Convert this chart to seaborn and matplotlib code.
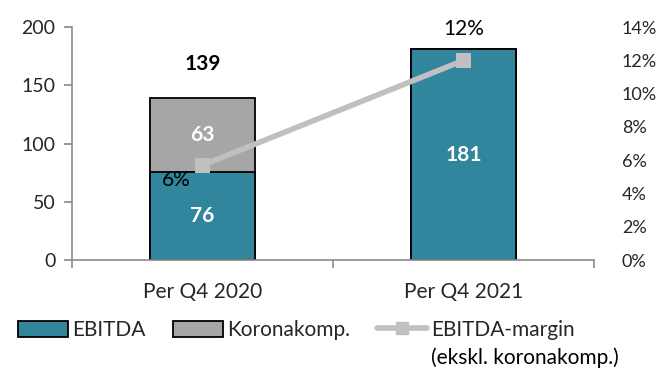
import matplotlib
matplotlib.use("Agg")
import matplotlib.pyplot as plt
import seaborn as sns
import pandas as pd
from matplotlib.patches import Patch
from matplotlib.lines import Line2D

categories = ["Per Q4 2020", "Per Q4 2021"]
ebitda = [76, 181]
korona = [63, 0]
margin = [5.7, 12.0]
margin_labels = ["6%", "12%"]
total_labels = ["139", ""]

sns.set_theme(style="white")
plt.rcParams["font.family"] = ["Lato", "DejaVu Sans"]

teal = "#31859C"
gray = "#A6A6A6"
linec = "#C0C0C0"
axc = "#8C8C8C"

fig = plt.figure(figsize=(6.6, 3.72), dpi=100)
ax = fig.add_axes([0.109, 0.301, 0.791, 0.626])

df = pd.DataFrame({"cat": categories, "ebitda": ebitda,
                   "total": [e + k for e, k in zip(ebitda, korona)]})
sns.barplot(data=df, x="cat", y="total", color=gray, width=0.4, ax=ax,
            edgecolor="black", linewidth=1.3, saturation=1)
sns.barplot(data=df, x="cat", y="ebitda", color=teal, width=0.4, ax=ax,
            edgecolor="black", linewidth=1.3, saturation=1)

ax.set_ylim(0, 200)
ax.set_xlim(-0.5, 1.5)
ax.set_yticks([0, 50, 100, 150, 200])
ax.set_xlabel("")
ax.set_ylabel("")
for s in ["top", "right"]:
    ax.spines[s].set_visible(False)
for s in ["left", "bottom"]:
    ax.spines[s].set_color(axc)
    ax.spines[s].set_linewidth(1.2)
ax.tick_params(axis="y", left=True, length=6, color=axc, labelsize=14, pad=6)
ax.tick_params(axis="x", bottom=False, labelsize=15, pad=10)
ax.set_xticks([-0.5, 0.5, 1.5], minor=True)
ax.tick_params(axis="x", which="minor", bottom=True, length=6, color=axc, width=1.2)

# value labels
for i in range(len(categories)):
    ax.text(i, ebitda[i] / 2, str(ebitda[i]), ha="center", va="center",
            color="white", fontsize=15, fontweight="bold")
    if korona[i] > 0:
        ax.text(i, ebitda[i] + korona[i] / 2, str(korona[i]), ha="center", va="center",
                color="white", fontsize=15, fontweight="bold")
        ax.text(i, ebitda[i] + korona[i] + 29, total_labels[i], ha="center", va="center",
                color="black", fontsize=15, fontweight="bold")

ax2 = ax.twinx()
sns.lineplot(x=[0, 1], y=margin, ax=ax2, color=linec, linewidth=4,
             marker="s", markersize=10, markeredgecolor=linec)
ax2.set_ylim(0, 14)
ax2.set_yticks(range(0, 15, 2))
ax2.set_yticklabels([f"{v}%" for v in range(0, 15, 2)])
ax2.tick_params(axis="y", right=False, labelsize=13, pad=14)
for s in ax2.spines.values():
    s.set_visible(False)

ax2.text(0 - 0.1, margin[0] - 0.9, margin_labels[0], ha="center", va="center",
         fontsize=15, color="black")
ax2.text(1, margin[1] + 1.9, margin_labels[1], ha="center", va="center",
         fontsize=15, color="black")

handles = [Patch(facecolor=teal, edgecolor="black", linewidth=1.3),
           Patch(facecolor=gray, edgecolor="black", linewidth=1.3),
           Line2D([0], [0], color=linec, linewidth=4, marker="s", markersize=9)]
labels = ["EBITDA", "Koronakomp.", "EBITDA-margin"]
leg = fig.legend(handles, labels, loc="center left", bbox_to_anchor=(0.015, 0.113),
                 ncol=3, frameon=False, fontsize=15, handlelength=2.4,
                 handleheight=0.8, handletextpad=0.2, columnspacing=1.3,
                 borderaxespad=0)

fig.canvas.draw()
bb = leg.get_texts()[2].get_window_extent()
x0 = bb.x0 / fig.bbox.width
fig.text(x0, 1 - 358 / 372, "(ekskl. koronakomp.)", ha="left", va="center",
         fontsize=15, color="black")

fig.savefig("out.png", dpi=100)
